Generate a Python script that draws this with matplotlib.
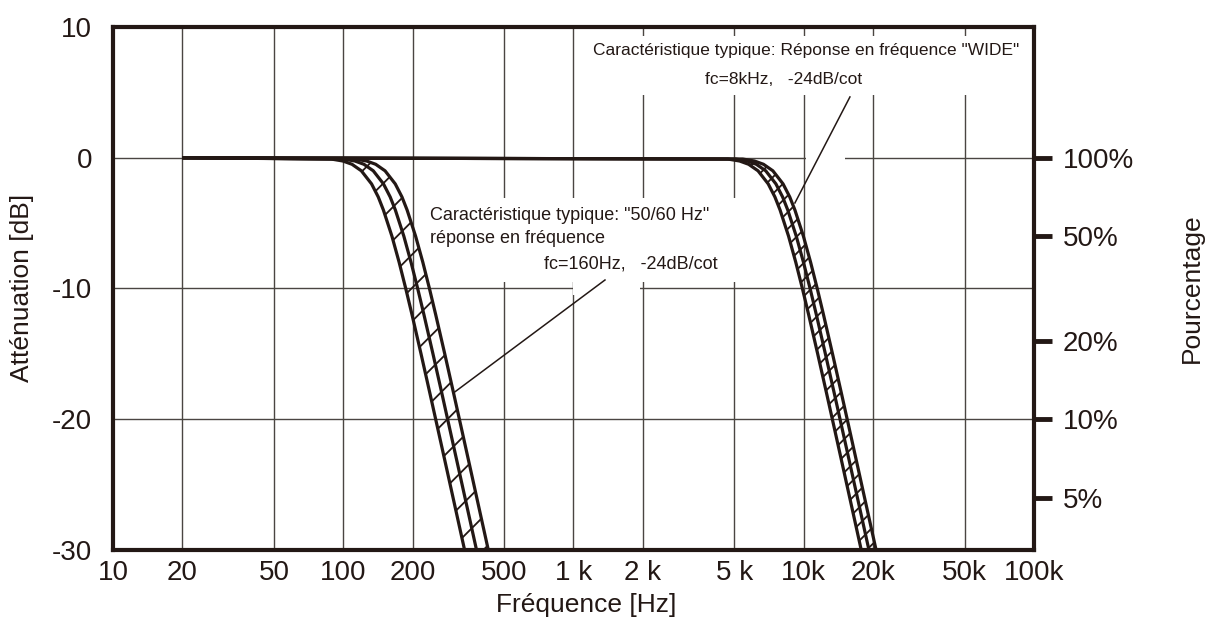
import numpy as np
import matplotlib
matplotlib.use("Agg")
import matplotlib.pyplot as plt
from matplotlib.patches import Rectangle

plt.rcParams['font.family'] = ['Liberation Sans', 'DejaVu Sans']
plt.rcParams['hatch.linewidth'] = 1.3
plt.rcParams['axes.unicode_minus'] = False

INK = '#231815'

# attenuation levels (dB) shared by every curve
db_levels = [0, -0.1, -0.25, -0.5, -1, -2, -3, -4, -6, -8, -10, -12, -15, -18, -21, -24, -27, -30]

# "50/60 Hz" response, fc=160Hz (min / nominal / max tolerance curves), Hz
hz50_min = [20, 88.8, 99.7, 109.2, 119.9, 132.8, 142, 149.5, 162.8, 175.0, 186.9, 199.0, 217.8, 237.9, 259.6, 283.2, 308.8, 336.7]
hz50_nom = [20, 100.0, 112.4, 123.0, 135.1, 149.6, 160, 168.5, 183.4, 197.1, 210.6, 224.2, 245.4, 268.1, 292.5, 319.1, 348.0, 379.4]
hz50_max = [20, 112.5, 126.4, 138.4, 152.0, 168.3, 180, 189.5, 206.3, 221.8, 236.9, 252.2, 276.1, 301.6, 329.1, 359.0, 391.4, 426.8]

# "WIDE" response, fc=8kHz
wide_min = [20, 4688, 5268, 5766, 6335, 7014, 7500, 7898, 8597, 9241, 9871, 10508, 11503, 12566, 13713, 14957, 16310, 17783]
wide_nom = [20, 5063, 5689, 6227, 6841, 7575, 8100, 8529, 9285, 9980, 10660, 11349, 12423, 13572, 14810, 16154, 17615, 19206]
wide_max = [20, 5438, 6111, 6689, 7348, 8136, 8700, 9161, 9973, 10719, 11450, 12190, 13343, 14577, 15907, 17350, 18920, 20629]

x_ticks = [10, 20, 50, 100, 200, 500, 1000, 2000, 5000, 10000, 20000, 50000, 100000]
x_labels = ['10', '20', '50', '100', '200', '500', '1 k', '2 k', '5 k', '10k', '20k', '50k', '100k']
y_ticks = [10, 0, -10, -20, -30]
pct_values = [100, 50, 20, 10, 5]
pct_labels = ['100%', '50%', '20%', '10%', '5%']


fig = plt.figure(figsize=(12.08, 6.22), dpi=100)
ax = fig.add_axes([0.0935, 0.1158, 0.7624, 0.8408])
ax.set_xscale('log')
ax.set_xlim(10, 100000)
ax.set_ylim(-30, 10)
ax.set_xticks(x_ticks)
ax.set_xticklabels(x_labels)
ax.xaxis.set_minor_locator(matplotlib.ticker.NullLocator())
ax.set_yticks(y_ticks)
ax.tick_params(axis='both', length=0, labelsize=20, colors=INK)
ax.tick_params(axis='y', pad=15)
ax.tick_params(axis='x', pad=7)
ax.set_axisbelow(True)
ax.grid(True, color='#4a4542', linewidth=1.0)
for sp in ax.spines.values():
    sp.set_linewidth(3)
    sp.set_color(INK)

# white backgrounds behind the notes
d = db_levels
def white_box(x0, x1, y0, y1):
    ax.add_patch(Rectangle((x0, y0), x1 - x0, y1 - y0, facecolor='white',
                           edgecolor='none', zorder=1.5))

white_box(1122, 100000, 4.8, 9.3)
white_box(211, 5285, -9.5, -3.08)
white_box(1000, 1946, -10.5, -9.4)
white_box(10230, 15100, -0.4, 4.8)

# curves + hatched tolerance bands
for lo, nom, hi, hatch in [(hz50_min, hz50_nom, hz50_max, '/'),
                           (wide_min, wide_nom, wide_max, '//')]:
    ax.fill_betweenx(d[1:], lo[1:], hi[1:], facecolor='none', edgecolor=INK,
                     linewidth=0, hatch=hatch, zorder=2.5)
    for c in (lo, nom, hi):
        ax.plot(c, d, color=INK, linewidth=2.3, zorder=3, solid_capstyle='butt')

# notes
ax.text(10230, 8.24, 'Caractéristique typique: Réponse en fréquence "WIDE"',
        fontsize=12.5, ha='center', va='center', color=INK, zorder=4)
ax.text(8204, 5.95, 'fc=8kHz,   -24dB/cot', fontsize=12.5, ha='center', va='center',
        color=INK, zorder=4)
ax.text(238, -4.38, 'Caractéristique typique: "50/60 Hz"', fontsize=13, ha='left',
        va='center', color=INK, zorder=4)
ax.text(238, -6.14, 'réponse en fréquence', fontsize=13, ha='left', va='center',
        color=INK, zorder=4)
ax.text(1777, -8.12, 'fc=160Hz,   -24dB/cot', fontsize=13, ha='center', va='center',
        color=INK, zorder=4)
ax.plot([1371, 306], [-9.35, -17.9], color=INK, linewidth=1.1, zorder=4)
ax.plot([15880, 9160], [4.65, -3.46], color=INK, linewidth=1.1, zorder=4)

# right percentage scale
ax2 = ax.twinx()
ax2.set_ylim(ax.get_ylim())
ax2.set_yticks([20 * np.log10(p / 100) for p in pct_values])
ax2.set_yticklabels(pct_labels)
ax2.tick_params(axis='y', direction='out', length=13, width=3.5, labelsize=20,
                colors=INK, pad=8)
for sp in ax2.spines.values():
    sp.set_visible(False)

fig.text(0.018, 0.537, 'Atténuation [dB]', rotation=90, ha='center', va='center',
         fontsize=19, color=INK)
fig.text(0.485, 0.027, 'Fréquence [Hz]', ha='center', va='center', fontsize=19, color=INK)
fig.text(0.987, 0.537, 'Pourcentage', rotation=90, ha='center', va='center',
         fontsize=19, color=INK)

fig.savefig('out.png', dpi=100)
